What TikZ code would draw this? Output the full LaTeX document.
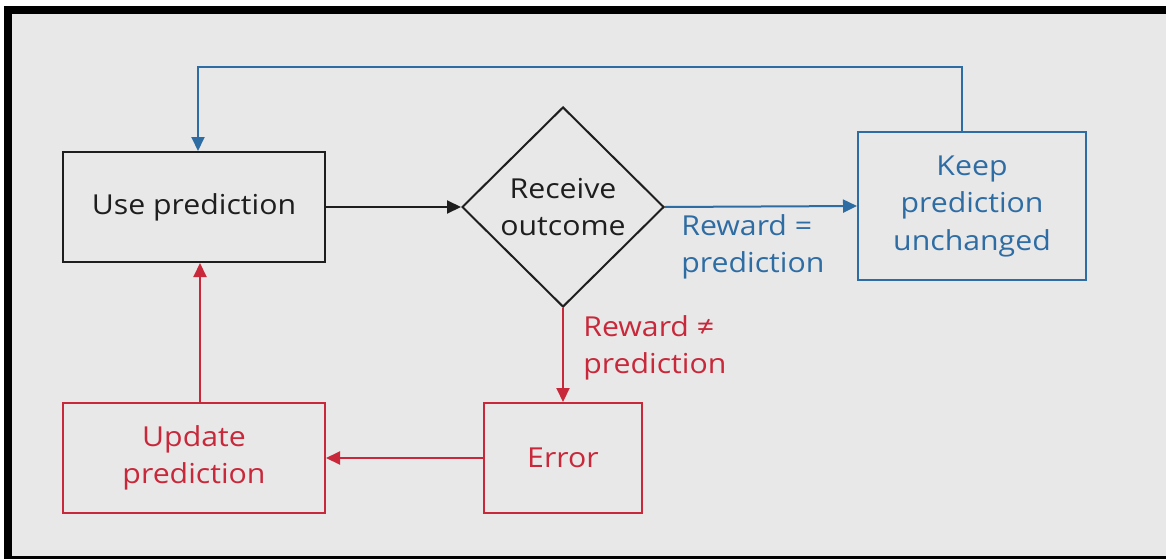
\documentclass[tikz,border=0pt]{standalone}
\usepackage{fontspec}
\setmainfont{Open Sans}[FakeStretch=1.1]
\usetikzlibrary{positioning, arrows.meta, shapes.geometric}

\definecolor{paneGray}{HTML}{E8E8E8}
\definecolor{loopBlue}{HTML}{2E6CA4}
\definecolor{errRed}{HTML}{C8283A}
\definecolor{inkBlack}{HTML}{1E1E1E}

\begin{document}
\begin{tikzpicture}[x=1pt, y=-1pt, line width=2pt,
    stepbox/.style={draw, rectangle, align=center, inner sep=0pt,
        font=\fontsize{27.5}{37.5}\selectfont},
    decide/.style={draw, diamond, aspect=1, inner sep=0pt, align=center,
        minimum width=202pt, minimum height=200pt,
        font=\fontsize{27.5}{37.5}\selectfont},
    flow/.style={-{Triangle[length=14pt, width=13pt]}},
    tag/.style={align=left, font=\fontsize{27.5}{37.5}\selectfont}]

    \useasboundingbox (0,0) rectangle (1166,559);

    % Panel background and black frame
    \fill[white] (0,0) rectangle (1166,559);
    \fill[paneGray] (12,14) rectangle (1166,556);
    \fill[black] (4,6) rectangle (1166,14);
    \fill[black] (4,6) rectangle (12,559);
    \fill[black] (4,556) rectangle (1166,559);

    % Main row: use prediction, decision diamond, keep branch
    \node[stepbox, draw=inkBlack, text=inkBlack, minimum width=262pt, minimum height=110pt]
        (use) at (194,207) {Use prediction};
    \node[decide, draw=inkBlack, text=inkBlack] (recv) at (563,207) {Receive\\outcome};
    \node[stepbox, draw=loopBlue, text=loopBlue, minimum width=228pt, minimum height=148pt]
        (keep) at (972,206) {Keep\\prediction\\unchanged};

    % Bottom row: error and update
    \node[stepbox, draw=errRed, text=errRed, minimum width=158pt, minimum height=110pt]
        (err) at (563,458) {Error};
    \node[stepbox, draw=errRed, text=errRed, minimum width=262pt, minimum height=110pt]
        (upd) at (194,458) {Update\\prediction};

    % Connectors
    \draw[flow, inkBlack] (use.east) -- (recv.west);
    \draw[flow, loopBlue] (recv.east) -- (keep.west);
    \coordinate (keepUp) at ([xshift=-10pt]keep.north);
    \coordinate (useUp) at ([xshift=4pt]use.north);
    \draw[flow, loopBlue] (keepUp) -- (keepUp |- 0,67) -- (useUp |- 0,67) -- (useUp);
    \draw[flow, errRed] (recv.south) -- (err.north);
    \draw[flow, errRed] (err.west) -- (upd.east);
    \coordinate (updUp) at ([xshift=6pt]upd.north);
    \draw[flow, errRed] (updUp) -- (updUp |- use.south);

    % Branch labels
    \node[tag, text=loopBlue, anchor=north west] (same) at (677,210) {Reward =\\prediction};
    \node[tag, text=errRed, anchor=north west] (diff) at (579,311) {Reward ≠\\prediction};

\end{tikzpicture}
\end{document}
